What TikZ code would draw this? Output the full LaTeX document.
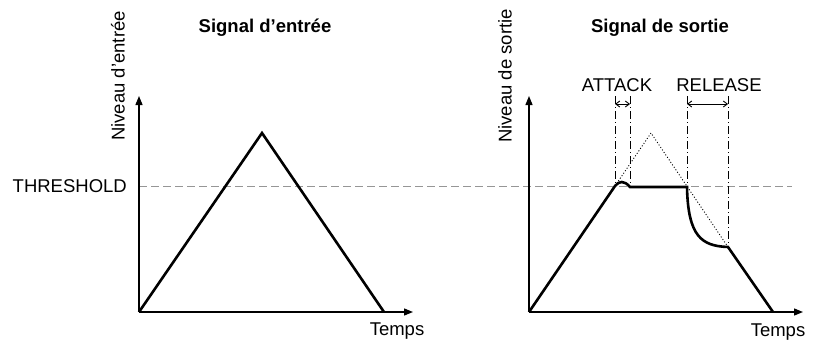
\documentclass[tikz,border=0pt]{standalone}
\usepackage{fontspec}
\setmainfont{Liberation Sans}
\usetikzlibrary{arrows.meta}
\begin{document}
\begin{tikzpicture}[x=1pt,y=-1pt,
  axis/.style={line width=1.3pt,-{Triangle[length=9pt,width=7pt]}},
  sig/.style={line width=2.6pt,line join=miter},
  thr/.style={line width=0.8pt,draw={rgb,255:red,150;green,150;blue,150},dash pattern=on 8pt off 4pt},
  dd/.style={line width=0.9pt,dash pattern=on 8pt off 3pt on 1pt off 3pt},
  dot/.style={line width=0.9pt,dash pattern=on 1pt off 2pt},
  dim/.style={line width=0.9pt,{Straight Barb[length=4pt,width=6pt]}-{Straight Barb[length=4pt,width=6pt]}},
  lbl/.style={font=\fontsize{18.5}{22}\selectfont,inner sep=0pt},
  ttl/.style={font=\fontsize{18.5}{22}\selectfont\bfseries,inner sep=0pt}]
\useasboundingbox (0,0) rectangle (816,341);
% coordinates
\coordinate (o1) at (139,312);
\coordinate (y1) at (139,96);
\coordinate (x1) at (413,312);
\coordinate (o2) at (529,312);
\coordinate (y2) at (529,96);
\coordinate (x2) at (803,312);
\coordinate (tl) at (139,186);
\coordinate (tr) at (792,186);
\coordinate (p1) at (262,133);
\coordinate (e1) at (384,312);
\coordinate (a1) at (615,186);
\coordinate (a2) at (630,187);
\coordinate (r1) at (687,187);
\coordinate (r2) at (728,247);
\coordinate (p2) at (651,133);
\coordinate (e2) at (773,312);
% threshold
\draw[thr] (tl) -- (tr);
% axes
\draw[axis] (o1) -- (y1);
\draw[axis] (o1) -- (x1);
\draw[axis] (o2) -- (y2);
\draw[axis] (o2) -- (x2);
% input signal
\draw[sig] (o1) -- (p1) -- (e1);
% dotted input overlay
\draw[dot] (a1) -- (p2) -- (r2);
% dash-dot markers
\draw[dd] (615,96) -- (615,184);
\draw[dd] (630,96) -- (630,186);
\draw[dd] (687,96) -- (687,186);
\draw[dd] (728,96) -- (728,246);
\draw[dim] (615,104) -- (630,104);
\draw[dim] (687,104) -- (728,104);
% output signal
\draw[sig] (o2) -- (a1) .. controls (619,181) and (624,180) .. (a2) -- (r1)
  .. controls (688,237) and (702,246) .. (r2) -- (e2);
% labels
\node[lbl,anchor=east] (thrl) at (127,186) {THRESHOLD};
\node[lbl,rotate=90] (yl1) at (118,76) {Niveau d’entrée};
\node[lbl,rotate=90] (yl2) at (505,76) {Niveau de sortie};
\node[ttl] (t1) at (265,28) {Signal d’entrée};
\node[ttl] (t2) at (660,28) {Signal de sortie};
\node[lbl] (xl1) at (397,331) {Temps};
\node[lbl] (xl2) at (778,332) {Temps};
\node[lbl] (atk) at (617,85) {ATTACK};
\node[lbl] (rel) at (719,85) {RELEASE};
\end{tikzpicture}
\end{document}
